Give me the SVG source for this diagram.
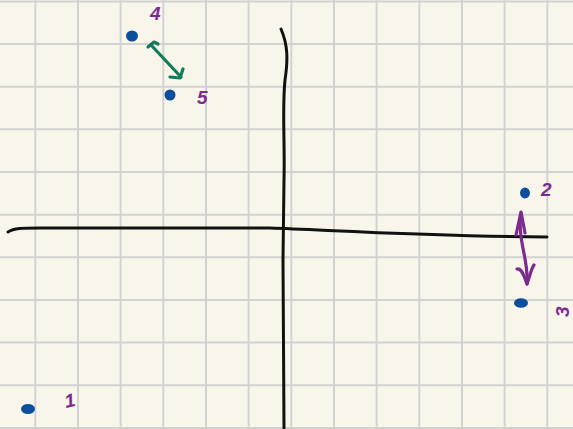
<svg xmlns="http://www.w3.org/2000/svg" width="573" height="429" viewBox="0 0 573 429">
<style>
.grid{stroke:#d2d2d2;stroke-width:2;fill:none}
.axis{stroke:#111;stroke-width:3;fill:none;stroke-linecap:round}
.dot{fill:#0b4f9c;stroke:#0b4f9c;stroke-width:2}
.lbl{fill:#7d2a8f;font-family:"Liberation Sans",sans-serif;font-size:19px;font-style:italic;font-weight:bold}
.g{stroke:#137a5c;stroke-width:3.2;fill:none;stroke-linecap:round;stroke-linejoin:round}
.p{stroke:#7d2a8f;stroke-width:3.2;fill:none;stroke-linecap:round;stroke-linejoin:round}
</style>
<rect width="573" height="429" fill="#f8f6ea"/>
<g id="grid" class="grid">
<path d="M35.3 0V429M78 0V429M120.6 0V429M163.3 0V429M206 0V429M248.6 0V429M291.3 0V429M334 0V429M376.6 0V429M419.3 0V429M462 0V429M504.6 0V429M547.3 0V429"/>
<path d="M0 1.5H573M0 44H573M0 86.7H573M0 129.3H573M0 172H573M0 214.7H573M0 257.3H573M0 300H573M0 342.6H573M0 385.3H573M0 428H573"/>
</g>
<g id="axes">
<path class="axis" d="M8 232 C14 228 22 228 40 228 L270 228 C330 230 420 236 547 237"/>
<path class="axis" d="M281 29 C288 45 288 60 285 80 C282 110 285 140 284 180 L283 260 C283 330 284 390 284 428"/>
</g>
<g id="connectors">
<path class="g" d="M151 45 L181 77"/>
<path class="g" d="M148 47 L154 42 L158 44 M170 77 L180 78 L183 69"/>
<path class="p" d="M521 213 C517 240 529 260 527 284"/>
<path class="p" d="M516 235 L521 212 L525 233 M517 269 C522 268 524 276 527 284 C530 276 531 269 534 265"/>
</g>
<g id="n1"><ellipse class="dot" cx="28" cy="409" rx="6" ry="4"/><text class="lbl" x="64" y="407" transform="rotate(-12 70 398)">1</text></g>
<g id="n2"><ellipse class="dot" cx="525" cy="193" rx="4" ry="4.5"/><text class="lbl" x="541" y="196">2</text></g>
<g id="n3"><ellipse class="dot" cx="521" cy="303" rx="6" ry="3.8"/><text class="lbl" x="556" y="318" transform="rotate(-90 562 311)">3</text></g>
<g id="n4"><ellipse class="dot" cx="132" cy="36" rx="5" ry="4.5"/><text class="lbl" x="150" y="20">4</text></g>
<g id="n5"><ellipse class="dot" cx="170" cy="95" rx="4.5" ry="4.5"/><text class="lbl" x="197" y="104">5</text></g>
</svg>
